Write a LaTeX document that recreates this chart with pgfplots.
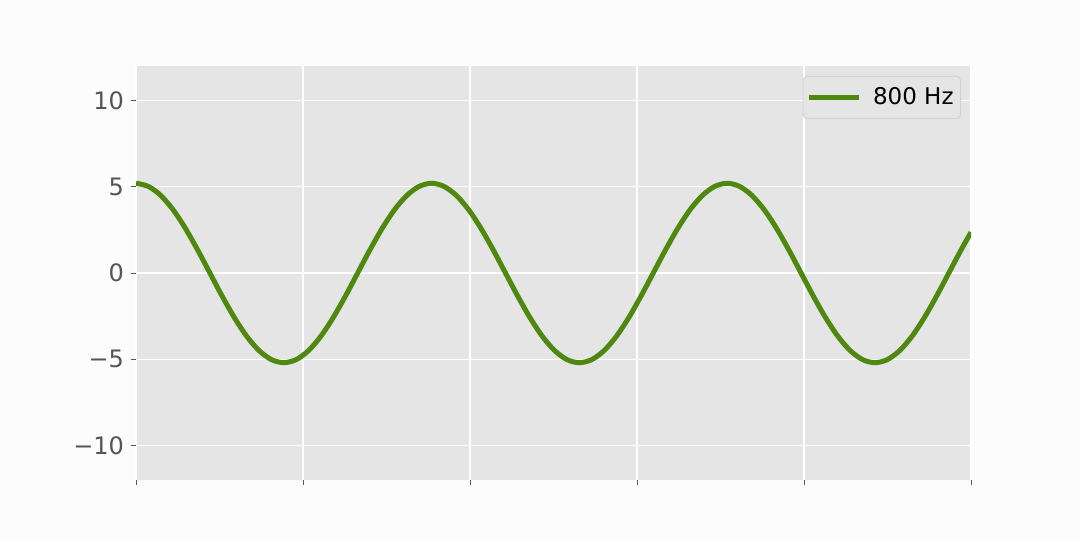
\documentclass[border=0pt]{standalone}
\usepackage{pgfplots}
\pgfplotsset{compat=1.18}
\usepackage{fontspec}
\setmainfont{DejaVu Sans}
\definecolor{figbg}{HTML}{FCFCFC}
\definecolor{axbg}{HTML}{E5E5E5}
\definecolor{tickgray}{HTML}{555555}
\definecolor{legedge}{HTML}{D2D2D2}
\definecolor{wavegreen}{RGB}{78,136,14}

\begin{document}
\begin{tikzpicture}
% whole figure: 1080x540 px, 1 px = 0.5 pt
\path[fill=figbg] (0,0) rectangle (540pt,270pt);
\begin{axis}[
	at={(68pt,30pt)}, anchor=south west,
	scale only axis,
	width=417.5pt, height=207pt,
	xmin=0, xmax=1017,
	ymin=-12, ymax=12,
	axis background/.style={fill=axbg},
	axis line style={draw=none},
	xtick={0,203.4,406.8,610.2,813.6,1017},
	xticklabels={},
	ytick={-10,-5,0,5,10},
	yticklabels={−10,−5,0,5,10},
	tick align=outside, tick pos=left,
	major tick length=2.5pt,
	tick style={tickgray, line width=0.4pt},
	ticklabel style={font=\fontsize{12}{14}\selectfont, text=tickgray},
	grid=major,
	grid style={white, line width=0.7pt},
	legend image code/.code={\draw[#1] (0pt,0pt) -- (25pt,0pt); \path (29pt,0pt);},
	legend style={at={(1,1)}, xshift=-5pt, yshift=-5pt, anchor=north east,
		fill=axbg, draw=legedge, rounded corners=2pt,
		font=\fontsize{11.5}{13}\selectfont,
		inner xsep=1.5pt, inner ysep=3.5pt},
	]
\addplot[wavegreen, line width=2.5pt, smooth] coordinates {
(0,5.2)(15,5.023)(30,4.503)(45,3.677)(60,2.6)(75,1.346)(90,0)(105,-1.346)(120,-2.6)(135,-3.677)(150,-4.503)(165,-5.023)
(180,-5.2)(195,-5.023)(210,-4.503)(225,-3.677)(240,-2.6)(255,-1.346)(270,0)(285,1.346)(300,2.6)(315,3.677)(330,4.503)(345,5.023)
(360,5.2)(375,5.023)(390,4.503)(405,3.677)(420,2.6)(435,1.346)(450,0)(465,-1.346)(480,-2.6)(495,-3.677)(510,-4.503)(525,-5.023)
(540,-5.2)(555,-5.023)(570,-4.503)(585,-3.677)(600,-2.6)(615,-1.346)(630,0)(645,1.346)(660,2.6)(675,3.677)(690,4.503)(705,5.023)
(720,5.2)(735,5.023)(750,4.503)(765,3.677)(780,2.6)(795,1.346)(810,0)(825,-1.346)(840,-2.6)(855,-3.677)(870,-4.503)(885,-5.023)
(900,-5.2)(915,-5.023)(930,-4.503)(945,-3.677)(960,-2.6)(975,-1.346)(990,0)(1005,1.346)(1017,2.361)
};
\addlegendentry{800 Hz}
\end{axis}
\end{tikzpicture}
\end{document}
